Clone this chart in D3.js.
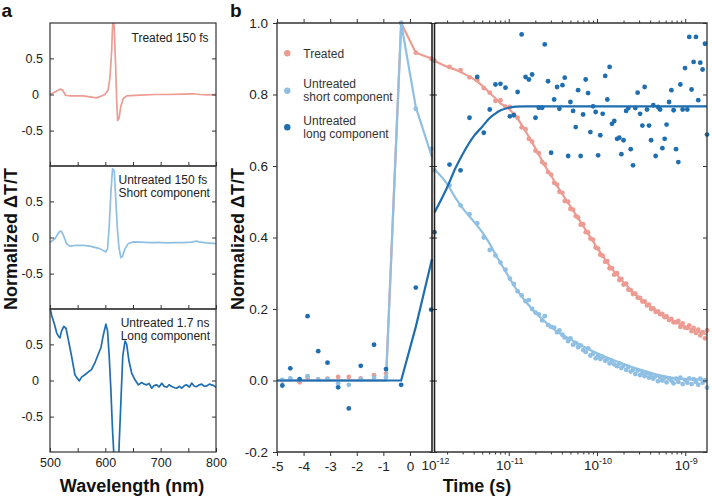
<!DOCTYPE html>
<html>
<head>
<meta charset="utf-8">
<script src="https://cdn.jsdelivr.net/npm/d3@7"></script>
<style>
body { margin: 0; background: #fff; }
svg text { font-family: "Liberation Sans", Arial, sans-serif; }
</style>
</head>
<body>
<svg id="chart" width="712" height="497"></svg>
<script>
// ---------- panel a : spectra ----------
var wlTreated = [500, 509, 518, 523, 528, 536, 560, 584, 590, 599, 605, 608.5, 611.5, 613, 614.3, 616, 618.7, 620.5, 622.2, 624.8, 627.8, 632.5, 638.6, 662.7, 690, 711, 740, 759, 771, 785, 800];
var dtTreated = [0, 0.036, 0.074, 0.06, -0.01, -0.02, -0.02, -0.047, -0.03, 0, 0.06, 0.245, 0.615, 0.94, 1.03, 0.94, 0.38, -0.08, -0.36, -0.33, -0.17, -0.056, -0.02, -0.01, 0, 0, 0.005, 0.01, 0, -0.005, 0];

var wlShort = [500, 509, 517, 520, 524, 530, 536, 548, 560, 572, 590, 601, 604, 607, 610, 613, 616, 619, 621.5, 624.5, 628, 631, 635.6, 641.6, 650.6, 665, 681, 696, 711, 726, 741, 755, 765, 769, 783, 800];
var dtShort = [-0.07, -0.014, 0.08, 0.09, 0.033, -0.084, -0.12, -0.107, -0.11, -0.12, -0.154, -0.2, -0.154, 0.15, 0.617, 0.95, 0.93, 0.52, 0.15, -0.13, -0.28, -0.26, -0.154, -0.084, -0.06, -0.065, -0.07, -0.068, -0.075, -0.072, -0.07, -0.065, -0.051, -0.06, -0.075, -0.084];

var wlLong = [500, 503, 508, 512, 515, 518, 521, 525, 529, 533, 539, 545, 549, 553, 557, 563, 569, 575, 581, 587, 592, 596, 601, 604, 607, 610, 613, 616, 624, 625.5, 628.5, 631.5, 635.6, 638.6, 642.8, 647.6, 653.5, 659.6, 665.7, 670, 674.8, 679, 683.9, 688, 693, 697, 702, 706, 711, 715, 720, 725, 729, 734, 738, 743, 747, 752, 756, 761, 765, 770, 774, 779, 783, 788, 792, 796, 800];
var dtLong = [1.01, 0.9, 0.78, 0.66, 0.617, 0.59, 0.687, 0.748, 0.72, 0.57, 0.336, 0.08, 0.033, -0.005, 0.047, 0.08, 0.117, 0.15, 0.243, 0.36, 0.453, 0.617, 0.78, 0.687, 0.336, -0.13, -0.69, -1.1, -1.1, -0.785, -0.224, 0.336, 0.547, 0.5, 0.266, 0.103, 0.01, -0.06, -0.028, -0.05, -0.06, -0.04, -0.107, -0.07, -0.06, -0.09, -0.037, -0.08, -0.093, -0.06, -0.084, -0.1, -0.107, -0.08, -0.107, -0.07, -0.06, -0.09, -0.037, -0.08, -0.084, -0.06, -0.05, -0.08, -0.075, -0.05, -0.06, -0.07, -0.093];

var wlTicks = [500, 550, 600, 650, 700, 750, 800];
var specTicks = [-0.5, 0, 0.5];

// ---------- panel b : kinetics ----------
// left part, linear time in ps
var leftTimes = [-4.8, -4.5, -4.15, -3.85, -3.45, -3.1, -2.7, -2.3, -1.85, -1.35, -0.9, -0.33, 0.22, 0.8];
var leftTreated = [0.0, 0.004, -0.005, 0.005, 0.003, 0.005, 0.01, 0.01, 0.006, 0.015, 0.02, 1.0, 0.917, 0.9];
var leftShort = [0.002, 0.006, 0.002, 0.012, 0.003, 0.004, -0.008, -0.012, 0.004, 0.008, 0.009, 1.0, 0.76, 0.648];
var leftLong = [-0.014, 0.034, 0.004, 0.18, 0.082, 0.05, -0.019, -0.078, 0.041, 0.1, 0.032, -0.012, 0.26, 0.198];

var leftFitTimes = [-5, -0.9, -0.33, 0.22, 0.83];
var leftFitTreated = [0, 0, 1.0, 0.917, 0.9];
var leftFitShort = [0, 0, 1.0, 0.765, 0.625];
var leftFitLong = [0, 0, 0, 0.15, 0.34];

// right part, log time in ps
var rightTimes = [1.44, 2.13, 2.84, 3.59, 4.39, 5.21, 6.09, 7.07, 8.05, 9.18, 10.3, 11.4, 12.6, 14.0, 15.5, 16.9, 18.4, 20.1, 21.9, 23.9, 25.6, 27.9, 30.2, 32.7, 35.3, 37.5, 40.6, 43.1, 47.1, 50.0, 53.6, 57.4, 61.1, 65.3, 69.6, 74.5, 79.3, 84.2, 90.3, 96.6, 103, 109, 116, 124, 131, 139, 148, 157, 169, 179, 189, 200, 214, 227, 241, 256, 272, 289, 308, 327, 347, 369, 389, 410, 435, 462, 492, 519, 551, 585, 615, 656, 697, 739, 787, 836, 881, 935, 995, 1057, 1112, 1181, 1245, 1324, 1406, 1482, 1574, 1675, 1766];
var rightTreated = [0.894, 0.877, 0.868, 0.848, 0.84, 0.818, 0.805, 0.782, 0.784, 0.766, 0.765, 0.744, 0.735, 0.708, 0.703, 0.676, 0.668, 0.643, 0.636, 0.611, 0.605, 0.583, 0.576, 0.553, 0.548, 0.528, 0.525, 0.502, 0.5, 0.48, 0.478, 0.46, 0.456, 0.436, 0.437, 0.415, 0.414, 0.397, 0.394, 0.372, 0.369, 0.352, 0.349, 0.332, 0.334, 0.314, 0.314, 0.296, 0.3, 0.281, 0.284, 0.268, 0.271, 0.254, 0.253, 0.242, 0.243, 0.232, 0.231, 0.221, 0.221, 0.21, 0.212, 0.2, 0.202, 0.192, 0.193, 0.185, 0.186, 0.177, 0.179, 0.169, 0.172, 0.163, 0.163, 0.167, 0.15, 0.16, 0.148, 0.147, 0.154, 0.138, 0.147, 0.133, 0.142, 0.126, 0.135, 0.118, 0.14];
var rightShort = [0.588, 0.546, 0.49, 0.465, 0.44, 0.4, 0.365, 0.35, 0.33, 0.31, 0.285, 0.27, 0.25, 0.238, 0.222, 0.225, 0.2, 0.19, 0.185, 0.168, 0.18, 0.155, 0.15, 0.148, 0.135, 0.14, 0.128, 0.12, 0.11, 0.118, 0.1, 0.105, 0.093, 0.098, 0.085, 0.08, 0.09, 0.07, 0.075, 0.062, 0.07, 0.06, 0.066, 0.055, 0.06, 0.048, 0.055, 0.045, 0.04, 0.048, 0.035, 0.042, 0.03, 0.038, 0.025, 0.03, 0.018, 0.028, 0.015, 0.022, 0.012, 0.02, 0.008, 0.015, 0.005, 0.012, -0.002, 0.01, 0.0, 0.008, -0.005, 0.006, 0.0, -0.008, 0.005, -0.004, 0.008, -0.01, 0.002, -0.006, 0.006, -0.01, 0.004, -0.004, -0.012, 0.005, -0.006, 0.0, -0.02];
var rightLong = [0.415, 0.604, 0.588, 0.735, 0.849, 0.693, 0.758, 0.828, 0.83, 0.819, 0.739, 0.742, 0.807, 0.968, 0.849, 0.842, 0.856, 0.735, 0.763, 0.763, 0.94, 0.837, 0.637, 0.786, 0.821, 0.76, 0.826, 0.847, 0.628, 0.779, 0.754, 0.709, 0.812, 0.628, 0.744, 0.842, 0.804, 0.695, 0.767, 0.751, 0.63, 0.686, 0.746, 0.852, 0.786, 0.877, 0.718, 0.726, 0.676, 0.679, 0.633, 0.672, 0.754, 0.762, 0.647, 0.602, 0.762, 0.805, 0.746, 0.713, 0.821, 0.758, 0.713, 0.672, 0.77, 0.628, 0.765, 0.758, 0.65, 0.676, 0.716, 0.779, 0.812, 0.756, 0.647, 0.611, 0.828, 0.758, 0.874, 0.758, 0.961, 0.814, 0.891, 0.961, 0.784, 0.889, 0.87, 0.942, 0.688];

var rightFitTimes = [1.44, 2, 2.5, 3, 4, 5, 6, 7, 8, 10, 12, 15, 20, 25, 30, 40, 50, 70, 100, 150, 200, 300, 400, 600, 800, 1000, 1400, 1766];
var rightFitTreated = [0.894, 0.878, 0.869, 0.86, 0.843, 0.825, 0.806, 0.79, 0.776, 0.76, 0.74, 0.703, 0.65, 0.606, 0.574, 0.523, 0.487, 0.432, 0.372, 0.31, 0.275, 0.232, 0.207, 0.178, 0.162, 0.151, 0.137, 0.128];
var rightFitShort = [0.59, 0.55, 0.51, 0.482, 0.445, 0.415, 0.385, 0.355, 0.33, 0.29, 0.258, 0.226, 0.19, 0.168, 0.15, 0.128, 0.115, 0.095, 0.076, 0.058, 0.046, 0.031, 0.022, 0.011, 0.006, 0.004, 0.003, 0.003];
var rightFitLong = [0.47, 0.54, 0.595, 0.633, 0.683, 0.71, 0.733, 0.746, 0.755, 0.763, 0.766, 0.767, 0.767, 0.767, 0.767, 0.767, 0.767, 0.767, 0.767, 0.767, 0.767, 0.767, 0.767, 0.767, 0.767, 0.767, 0.767, 0.767];

var kinTicks = [-0.2, 0, 0.2, 0.4, 0.6, 0.8, 1.0];
var leftTicks = [-5, -4, -3, -2, -1, 0];
var logMajor = [1, 10, 100, 1000];
var logLabels = ["-12", "-11", "-10", "-9"];

var cPink = "#ec9c92", cLight = "#8fc0e3", cDark = "#1f6eb0", axisCol = "#333";

var svg = d3.select("#chart");

function styleAxis(g, size) {
    g.attr("color", axisCol).style("font-size", size);
    g.select(".domain").remove();
    g.selectAll("text").attr("fill", "#222");
}

// ===== panel a =====
var xWl = d3.scaleLinear().domain([500, 800]).range([50, 216]);
var panelTops = [23, 166, 309], panelH = 143;
var spectra = [
    { wl: wlTreated, v: dtTreated, color: cPink },
    { wl: wlShort, v: dtShort, color: cLight },
    { wl: wlLong, v: dtLong, color: cDark }
];

spectra.forEach(function (s, i) {
    var top = panelTops[i];
    var y = d3.scaleLinear().domain([-0.99, 0.99]).range([top + panelH, top]);
    var g = svg.append("g");

    g.append("clipPath").attr("id", "clipA" + i)
        .append("rect").attr("x", 50).attr("y", top).attr("width", 166).attr("height", panelH);

    var line = d3.line()
        .x(function (d) { return xWl(d[0]); })
        .y(function (d) { return y(d[1]); });

    g.append("path")
        .datum(d3.zip(s.wl, s.v))
        .attr("d", line)
        .attr("clip-path", "url(#clipA" + i + ")")
        .attr("fill", "none")
        .attr("stroke", s.color)
        .attr("stroke-width", 1.7)
        .attr("stroke-linejoin", "round");

    var yl = g.append("g").attr("transform", "translate(50,0)")
        .call(d3.axisLeft(y).tickValues(specTicks).tickSize(-4).tickPadding(7)
            .tickFormat(function (d) { return d === 0 ? "0" : String(d); }));
    styleAxis(yl, "12.5px");
    yl.selectAll("text").filter(function (d) { return d === 0; }).attr("dx", -4);

    var yr = g.append("g").attr("transform", "translate(216,0)")
        .call(d3.axisRight(y).tickValues(specTicks).tickSize(-4).tickFormat(""));
    styleAxis(yr, "12.5px");

    var xb = g.append("g").attr("transform", "translate(0," + (top + panelH) + ")")
        .call(d3.axisBottom(xWl).tickValues(wlTicks).tickSize(-4).tickPadding(6)
            .tickFormat(function (d) { return (i === 2 && d % 100 === 0) ? d : ""; }));
    styleAxis(xb, "12.5px");

    g.append("rect").attr("x", 50).attr("y", top).attr("width", 166).attr("height", panelH)
        .attr("fill", "none").attr("stroke", axisCol).attr("stroke-width", 1.2);
});

var notes = svg.append("g").style("font-size", "12px").attr("fill", "#222");
notes.append("text").attr("x", 208.5).attr("y", 42).attr("text-anchor", "end").text("Treated 150 fs");
notes.append("text").attr("x", 118.5).attr("y", 183.5).text("Untreated 150 fs");
notes.append("text").attr("x", 118.5).attr("y", 196.8).text("Short component");
notes.append("text").attr("x", 120.7).attr("y", 326.6).text("Untreated 1.7 ns");
notes.append("text").attr("x", 120.7).attr("y", 339.6).text("Long component");

// ===== panel b =====
var yB = d3.scaleLinear().domain([-0.2, 1.0]).range([452, 23]);
var xL = d3.scaleLinear().domain([-5, 0.83]).range([277, 432]);
var xR = d3.scaleLog().domain([1.44, 1766]).range([434.5, 707]).clamp(true);

var series = [
    { color: cPink, lt: leftTreated, rt: rightTreated, lf: leftFitTreated, rf: rightFitTreated },
    { color: cLight, lt: leftShort, rt: rightShort, lf: leftFitShort, rf: rightFitShort },
    { color: cDark, lt: leftLong, rt: rightLong, lf: leftFitLong, rf: rightFitLong }
];

var lineL = d3.line().x(function (d) { return xL(d[0]); }).y(function (d) { return yB(d[1]); });
var lineR = d3.line().x(function (d) { return xR(d[0]); }).y(function (d) { return yB(d[1]); })
    .curve(d3.curveMonotoneX);

var plotB = svg.append("g");
series.forEach(function (s) {
    var g = plotB.append("g");
    g.selectAll(".pl").data(d3.zip(leftTimes, s.lt)).enter().append("circle")
        .attr("cx", function (d) { return xL(d[0]); })
        .attr("cy", function (d) { return yB(d[1]); })
        .attr("r", 2.4).attr("fill", s.color);
    g.selectAll(".pr").data(d3.zip(rightTimes, s.rt)).enter().append("circle")
        .attr("cx", function (d) { return xR(d[0]); })
        .attr("cy", function (d) { return yB(d[1]); })
        .attr("r", 2.4).attr("fill", s.color);
    g.append("path").datum(d3.zip(leftFitTimes, s.lf)).attr("d", lineL)
        .attr("fill", "none").attr("stroke", s.color).attr("stroke-width", 2.2);
    g.append("path").datum(d3.zip(rightFitTimes, s.rf)).attr("d", lineR)
        .attr("fill", "none").attr("stroke", s.color).attr("stroke-width", 2.2);
});

// axes of panel b
var ax = svg.append("g");
var yLeft = ax.append("g").attr("transform", "translate(277,0)")
    .call(d3.axisLeft(yB).tickValues(kinTicks).tickSize(4).tickPadding(5)
        .tickFormat(function (d) { return d.toFixed(1); }));
styleAxis(yLeft, "13.5px");

var yBreakL = ax.append("g").attr("transform", "translate(432,0)")
    .call(d3.axisRight(yB).tickValues(kinTicks).tickSize(5).tickFormat(""));
styleAxis(yBreakL, "13.5px");
var yBreakR = ax.append("g").attr("transform", "translate(434.5,0)")
    .call(d3.axisLeft(yB).tickValues(kinTicks).tickSize(5).tickFormat(""));
styleAxis(yBreakR, "13.5px");

var yRight = ax.append("g").attr("transform", "translate(707,0)")
    .call(d3.axisRight(yB).tickValues(kinTicks).tickSize(-4).tickFormat(""));
styleAxis(yRight, "13.5px");

var xTopL = ax.append("g").attr("transform", "translate(0,23)")
    .call(d3.axisTop(xL).tickValues(leftTicks).tickSize(4).tickFormat(""));
styleAxis(xTopL, "13.5px");
var xBotL = ax.append("g").attr("transform", "translate(0,452)")
    .call(d3.axisBottom(xL).tickValues(leftTicks).tickSize(4).tickPadding(5)
        .tickFormat(function (d) { return String(d); }));
styleAxis(xBotL, "13.5px");

var logMinor = [];
[1, 10, 100].forEach(function (dec) {
    for (var k = 2; k <= 9; k++) logMinor.push(k * dec);
});
var xTopR = ax.append("g").attr("transform", "translate(0,23)")
    .call(d3.axisTop(xR).tickValues(logMajor.slice(1)).tickSize(4).tickFormat(""));
styleAxis(xTopR, "13.5px");
var xTopRm = ax.append("g").attr("transform", "translate(0,23)")
    .call(d3.axisTop(xR).tickValues(logMinor).tickSize(2.5).tickFormat(""));
styleAxis(xTopRm, "13.5px");
var xBotR = ax.append("g").attr("transform", "translate(0,452)")
    .call(d3.axisBottom(xR).tickValues(logMajor.slice(1)).tickSize(4).tickFormat(""));
styleAxis(xBotR, "13.5px");
var xBotRm = ax.append("g").attr("transform", "translate(0,452)")
    .call(d3.axisBottom(xR).tickValues(logMinor).tickSize(2.5).tickFormat(""));
styleAxis(xBotRm, "13.5px");

var powLabels = ax.append("g").style("font-size", "13.5px").attr("fill", "#222");
logMajor.forEach(function (v, i) {
    var t = powLabels.append("text").attr("x", xR(v) + 1).attr("y", 470).attr("text-anchor", "middle");
    t.append("tspan").text("10");
    t.append("tspan").attr("dy", -6).style("font-size", "9px").text(logLabels[i]);
});

// frame lines of panel b
var frame = ax.append("g").attr("stroke", axisCol).attr("fill", "none");
frame.append("path").attr("d", "M432,23H277V452H432").attr("stroke-width", 1.3);
frame.append("path").attr("d", "M434.5,23H707V452H434.5").attr("stroke-width", 1.3);
frame.append("line").attr("x1", 432).attr("x2", 432).attr("y1", 23).attr("y2", 452)
    .attr("stroke", "#222").attr("stroke-width", 1.6);
frame.append("line").attr("x1", 434.5).attr("x2", 434.5).attr("y1", 23).attr("y2", 452)
    .attr("stroke", "#222").attr("stroke-width", 1.6);

// legend
var legendLabels = [["Treated"], ["Untreated", "short component"], ["Untreated", "long component"]];
var legendColors = [cPink, cLight, cDark];
var legendY = [53.3, 90.7, 127.3];
var leg = svg.append("g").style("font-size", "12px");
legendLabels.forEach(function (lines, i) {
    leg.append("circle").attr("cx", 287.3).attr("cy", legendY[i]).attr("r", 3.2).attr("fill", legendColors[i]);
    lines.forEach(function (txt, j) {
        var off = lines.length === 1 ? 4.3 : (j === 0 ? -2.6 : 10.7);
        leg.append("text").attr("x", 303.3).attr("y", legendY[i] + off).attr("fill", "#333").text(txt);
    });
});

// titles and panel letters
var titles = svg.append("g").style("font-weight", "bold").attr("fill", "#111");
titles.append("text").attr("x", 1.5).attr("y", 17).style("font-size", "19px").text("a");
titles.append("text").attr("x", 230).attr("y", 17).style("font-size", "19px").text("b");
titles.append("text").attr("x", 132).attr("y", 492).attr("text-anchor", "middle").style("font-size", "18px").text("Wavelength (nm)");
titles.append("text").attr("x", 477).attr("y", 492).attr("text-anchor", "middle").style("font-size", "18px").text("Time (s)");
titles.append("text").attr("transform", "translate(17,239) rotate(-90)").attr("text-anchor", "middle")
    .style("font-size", "18px").text("Normalized ΔT/T");
titles.append("text").attr("transform", "translate(244,239) rotate(-90)").attr("text-anchor", "middle")
    .style("font-size", "18px").text("Normalized ΔT/T");
</script>
</body>
</html>
